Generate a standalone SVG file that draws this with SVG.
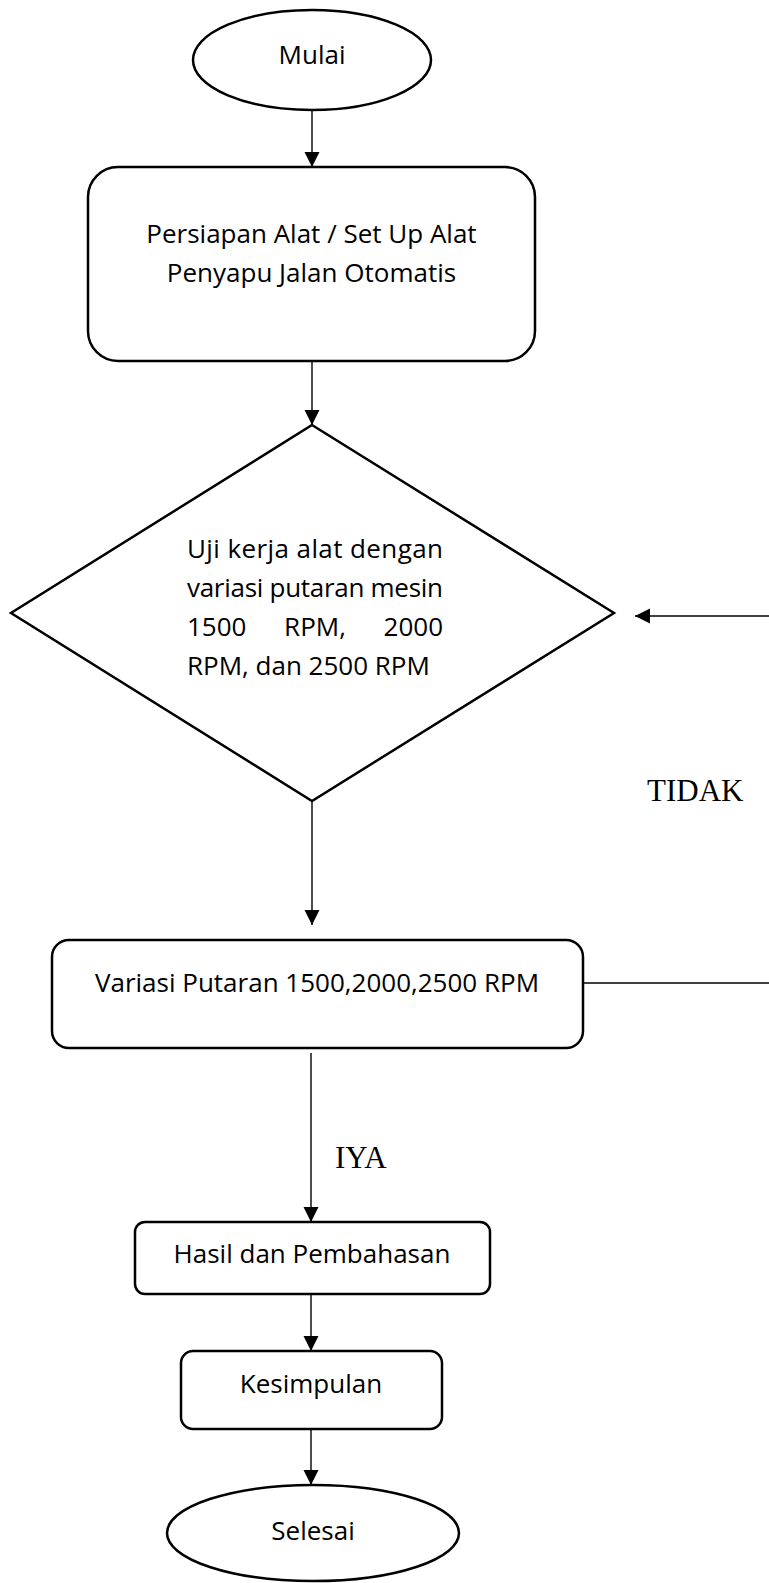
<svg xmlns="http://www.w3.org/2000/svg" width="769" height="1583" viewBox="0 0 769 1583">
<style>
.shape{fill:#fff;stroke:#000;stroke-width:2.5}
.conn{fill:none;stroke:#000;stroke-width:1.4}
.t{font-family:"Open Sans","Noto Sans",sans-serif;font-size:26px;fill:#000}
.c{text-anchor:middle}
.lbl{font-family:"Liberation Serif","Times New Roman",serif;font-size:31px;fill:#000}
</style>
<defs>
<marker id="ah" markerUnits="userSpaceOnUse" markerWidth="16" markerHeight="16" viewBox="0 0 16 16" refX="15" refY="8" orient="auto">
<path d="M0,0.5 L15,8 L0,15.5 Z" fill="#000"/>
</marker>
</defs>
<rect width="769" height="1583" fill="#fff"/>
<g id="connectors">
<line class="conn" x1="312" y1="110" x2="312" y2="167" marker-end="url(#ah)"/>
<line class="conn" x1="312" y1="361" x2="312" y2="425" marker-end="url(#ah)"/>
<line class="conn" x1="312" y1="801" x2="312" y2="925" marker-end="url(#ah)"/>
<line class="conn" x1="583" y1="983" x2="769" y2="983"/>
<line class="conn" x1="769" y1="616" x2="635" y2="616" marker-end="url(#ah)"/>
<line class="conn" x1="311" y1="1053" x2="311" y2="1222" marker-end="url(#ah)"/>
<line class="conn" x1="311" y1="1294" x2="311" y2="1351" marker-end="url(#ah)"/>
<line class="conn" x1="311" y1="1429" x2="311" y2="1485" marker-end="url(#ah)"/>
<text class="lbl" x="647" y="801">TIDAK</text>
<text class="lbl" x="335" y="1168">IYA</text>
</g>
<g id="mulai">
<ellipse class="shape" cx="312" cy="60" rx="119" ry="50"/>
<text class="t c" x="312" y="64">Mulai</text>
</g>
<g id="persiapan">
<rect class="shape" x="88" y="167" width="447" height="194" rx="30"/>
<text class="t c" x="311.5" y="243">Persiapan Alat / Set Up Alat</text>
<text class="t c" x="311.5" y="282">Penyapu Jalan Otomatis</text>
</g>
<g id="uji">
<polygon class="shape" points="312,425 614,613 312,801 11,613"/>
<text class="t" x="187" y="558" textLength="256" lengthAdjust="spacing">Uji kerja alat dengan</text>
<text class="t" x="187" y="597" textLength="256" lengthAdjust="spacing">variasi putaran mesin</text>
<text class="t" x="187" y="636">1500</text>
<text class="t c" x="315" y="636">RPM,</text>
<text class="t" x="443" y="636" text-anchor="end">2000</text>
<text class="t" x="187" y="675">RPM, dan 2500 RPM</text>
</g>
<g id="variasi">
<rect class="shape" x="52" y="940" width="531" height="108" rx="17"/>
<text class="t c" x="317" y="992">Variasi Putaran 1500,2000,2500 RPM</text>
</g>
<g id="hasil">
<rect class="shape" x="135" y="1222" width="355" height="72" rx="10"/>
<text class="t c" x="312" y="1263">Hasil dan Pembahasan</text>
</g>
<g id="kesimpulan">
<rect class="shape" x="181" y="1351" width="261" height="78" rx="12"/>
<text class="t c" x="311" y="1393">Kesimpulan</text>
</g>
<g id="selesai">
<ellipse class="shape" cx="313" cy="1533" rx="146" ry="48"/>
<text class="t c" x="313" y="1540">Selesai</text>
</g>
</svg>
